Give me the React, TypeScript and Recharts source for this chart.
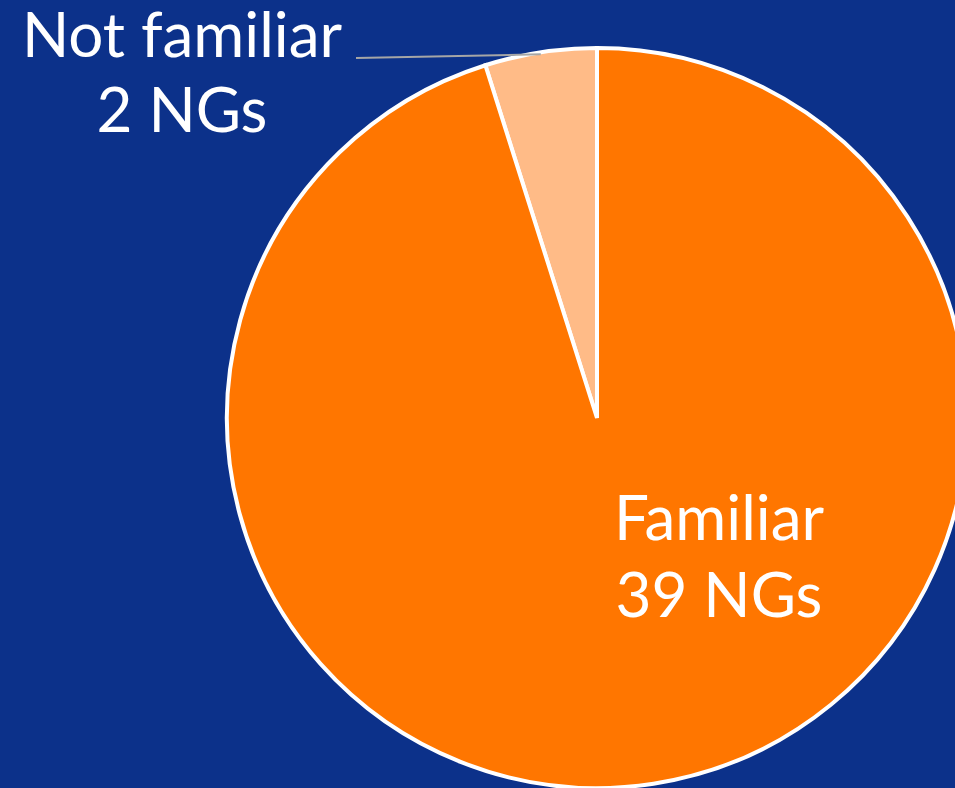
import { PieChart, Pie, Cell } from "recharts";

const categories = ["Not familiar", "Familiar"];
const counts = [2, 39];
const colors = ["#ffbb87", "#ff7600"];

const data = categories.map((name, i) => ({ name, value: counts[i] }));

const RADIAN = Math.PI / 180;

function renderLabel(props: any) {
  const { cx, cy, midAngle, outerRadius, index, name, value } = props;
  const textStyle = {
    fill: "#ffffff",
    fontFamily: "Lato, sans-serif",
    fontSize: 62,
  };
  if (index === 0) {
    // small slice: label sits outside, with a leader line to the arc
    const ex = cx + (outerRadius - 2) * Math.cos(-midAngle * RADIAN);
    const ey = cy + (outerRadius - 2) * Math.sin(-midAngle * RADIAN);
    const tx = cx - 415;
    return (
      <g>
        <line x1={ex} y1={ey} x2={cx - 241} y2={cy - 360} stroke="#a6a6a6" strokeWidth={2} />
        <text x={tx} y={cy - 361} textAnchor="middle" style={textStyle}>
          {name}
        </text>
        <text x={tx} y={cy - 286} textAnchor="middle" style={textStyle}>
          {`${value} NGs`}
        </text>
      </g>
    );
  }
  const tx = cx + 122;
  return (
    <g>
      <text x={tx} y={cy + 122} textAnchor="middle" style={textStyle}>
        {name}
      </text>
      <text x={tx} y={cy + 199} textAnchor="middle" style={textStyle}>
        {`${value} NGs`}
      </text>
    </g>
  );
}

export default function App() {
  return (
    <div
      style={{
        position: "absolute",
        left: 0,
        top: 0,
        width: 955,
        height: 788,
        overflow: "hidden",
        background: "#0c318a",
      }}
    >
      <PieChart width={955} height={788} margin={{ top: 0, right: 0, bottom: 0, left: 0 }}>
        <Pie
          data={data}
          dataKey="value"
          nameKey="name"
          cx={597}
          cy={418}
          outerRadius={370}
          startAngle={90}
          endAngle={450}
          stroke="#ffffff"
          strokeWidth={4}
          label={renderLabel}
          labelLine={false}
          isAnimationActive={false}
        >
          {data.map((d, i) => (
            <Cell key={d.name} fill={colors[i]} />
          ))}
        </Pie>
      </PieChart>
    </div>
  );
}
